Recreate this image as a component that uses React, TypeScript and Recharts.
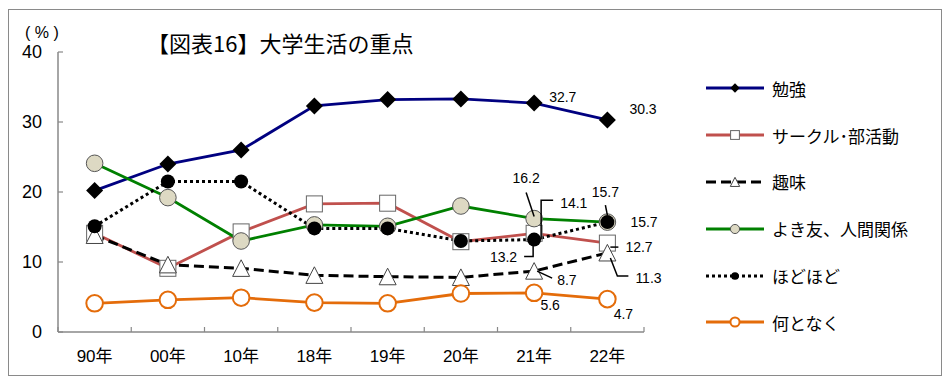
import { LineChart, Line, XAxis, YAxis, Legend, LabelList } from 'recharts';

// 大学生活の重点 (%)
const years = ['90年', '00年', '10年', '18年', '19年', '20年', '21年', '22年'];
const study = [20.2, 24.0, 26.0, 32.3, 33.2, 33.3, 32.7, 30.3];
const club = [14.1, 9.1, 14.3, 18.3, 18.4, 12.9, 14.1, 12.7];
const hobby = [13.8, 9.6, 9.1, 8.1, 7.9, 7.8, 8.7, 11.3];
const friends = [24.1, 19.2, 13.0, 15.3, 15.1, 18.0, 16.2, 15.7];
const moderate = [15.1, 21.5, 21.5, 14.8, 14.8, 13.0, 13.2, 15.7];
const aimless = [4.1, 4.6, 4.9, 4.2, 4.1, 5.5, 5.6, 4.7];
const yTicks = [0, 10, 20, 30, 40];

const data = years.map((year, i) => ({
  year,
  study: study[i],
  club: club[i],
  hobby: hobby[i],
  friends: friends[i],
  moderate: moderate[i],
  aimless: aimless[i],
}));

const W = 950;
const H = 388;
const margin = { top: 52, right: 306, bottom: 26, left: 0 };
const Y_AXIS_W = 58;
const X_AXIS_H = 30;
const step = (W - margin.left - margin.right - Y_AXIS_W) / years.length;

const numFont = '"Liberation Sans", Arial, "Noto Sans CJK JP", sans-serif';
const jpFont = '"Noto Sans CJK JP", "Noto Sans", sans-serif';

type Kind = 'diamond' | 'square' | 'triangle' | 'beige' | 'black' | 'orange';

const series: { key: string; name: string; color: string; width: number; dash?: string; kind: Kind }[] = [
  { key: 'study', name: '勉強', color: '#000080', width: 2.8, kind: 'diamond' },
  { key: 'club', name: 'サークル･部活動', color: '#c0504d', width: 2.8, kind: 'square' },
  { key: 'hobby', name: '趣味', color: '#000000', width: 3, dash: '10 5', kind: 'triangle' },
  { key: 'friends', name: 'よき友、人間関係', color: '#008000', width: 2.8, kind: 'beige' },
  { key: 'moderate', name: 'ほどほど', color: '#000000', width: 3, dash: '3 3', kind: 'black' },
  { key: 'aimless', name: '何となく', color: '#e46c0a', width: 2.8, kind: 'orange' },
];

const Marker = ({ kind, cx, cy, s = 1 }: { kind: Kind; cx: number; cy: number; s?: number }) => {
  switch (kind) {
    case 'diamond': {
      const r = 8.5 * s;
      return <polygon points={`${cx},${cy - r} ${cx + r},${cy} ${cx},${cy + r} ${cx - r},${cy}`} fill="#000" />;
    }
    case 'square': {
      const r = 8 * s;
      return <rect x={cx - r} y={cy - r} width={2 * r} height={2 * r} fill="#fff" stroke="#666" strokeWidth={1} />;
    }
    case 'triangle': {
      const r = 8.5 * s;
      return (
        <polygon
          points={`${cx},${cy - r} ${cx + r},${cy + r * 0.95} ${cx - r},${cy + r * 0.95}`}
          fill="#fff"
          stroke="#444"
          strokeWidth={1}
        />
      );
    }
    case 'beige':
      return <circle cx={cx} cy={cy} r={8.3 * s} fill="#ddd9c3" stroke="#555" strokeWidth={1} />;
    case 'black':
      return <circle cx={cx} cy={cy} r={7 * s} fill="#000" />;
    case 'orange':
      return <circle cx={cx} cy={cy} r={8.3 * s} fill="#fff" stroke="#e46c0a" strokeWidth={2} />;
  }
  return null;
};

// label offsets (relative to the point) and leader lines for the last two years
type Note = { dx: number; dy: number; anchor: 'start' | 'middle' | 'end'; path?: number[][] };
const notes: Record<string, Record<number, Note>> = {
  study: { 6: { dx: 15, dy: -6, anchor: 'start' }, 7: { dx: 22, dy: -11, anchor: 'start' } },
  club: {
    6: { dx: 26, dy: -30, anchor: 'start', path: [[19, -33], [7, -33], [7, 6]] },
    7: { dx: 18, dy: 4, anchor: 'start', path: [[3, 4], [11, 4]] },
  },
  hobby: {
    6: { dx: 23, dy: 9, anchor: 'start', path: [[3, 0], [18, 7]] },
    7: { dx: 28, dy: 25, anchor: 'start', path: [[3, 5], [10, 23], [21, 23]] },
  },
  friends: {
    6: { dx: -8, dy: -41, anchor: 'middle', path: [[-8, -26], [0, -2]] },
    7: { dx: 23, dy: 0, anchor: 'start' },
  },
  moderate: {
    6: { dx: -17, dy: 17, anchor: 'end', path: [[-10, 17], [-1, 17], [-1, 5]] },
    7: { dx: -2, dy: -30, anchor: 'middle', path: [[-2, -17], [0, -7]] },
  },
  aimless: { 6: { dx: 16, dy: 12, anchor: 'middle' }, 7: { dx: 16, dy: 15, anchor: 'middle' } },
};

const makeLabel = (key: string) => (props: any) => {
  const { x, y, value, index } = props;
  const n = notes[key]?.[index];
  if (!n || x == null || y == null) return null;
  return (
    <g key={`${key}-lab-${index}`}>
      {n.path && (
        <polyline
          points={n.path.map(([a, b]) => `${x + a},${y + b}`).join(' ')}
          fill="none"
          stroke="#000"
          strokeWidth={1.5}
        />
      )}
      <text
        x={x + n.dx}
        y={y + n.dy}
        textAnchor={n.anchor}
        dominantBaseline="central"
        fontSize={14}
        fontFamily={numFont}
        fill="#000"
      >
        {Number(value).toFixed(1)}
      </text>
    </g>
  );
};

const XTick = (props: any) => {
  const { x, y, payload, index } = props;
  const left = x - step / 2;
  return (
    <g>
      <line x1={left} y1={y} x2={left} y2={y - 5} stroke="#888" strokeWidth={1.2} />
      {index === years.length - 1 && (
        <line x1={x + step / 2} y1={y} x2={x + step / 2} y2={y - 5} stroke="#888" strokeWidth={1.2} />
      )}
      <text x={x} y={y + 24} textAnchor="middle" dominantBaseline="central" fontSize={17} fontFamily={numFont} fill="#000">
        {payload.value}
      </text>
    </g>
  );
};

const LegendBox = () => (
  <div style={{ fontFamily: jpFont, fontSize: 17, color: '#000' }}>
    {series.map((s) => (
      <div key={s.key} style={{ display: 'flex', alignItems: 'center', height: 46.8 }}>
        <svg width={58} height={20} style={{ display: 'block' }}>
          <line x1={0} y1={10} x2={58} y2={10} stroke={s.color} strokeWidth={s.width} strokeDasharray={s.dash} />
          <Marker kind={s.kind} cx={29} cy={10} s={0.55} />
        </svg>
        <span style={{ marginLeft: 8, whiteSpace: 'nowrap' }}>{s.name}</span>
      </div>
    ))}
  </div>
);

export default function App() {
  return (
    <div style={{ position: 'absolute', left: 0, top: 0, width: W, height: H, background: '#fff' }}>
      <div
        style={{
          position: 'absolute',
          left: 8,
          top: 9,
          width: 934,
          height: 367,
          border: '1.5px solid #8a8a8a',
          boxSizing: 'border-box',
        }}
      />
      <div style={{ position: 'absolute', left: 0, top: 0 }}>
        <LineChart width={W} height={H} data={data} margin={margin}>
          <XAxis
            dataKey="year"
            scale="band"
            height={X_AXIS_H}
            tickSize={0}
            tickMargin={0}
            tick={<XTick />}
            axisLine={{ stroke: '#888', strokeWidth: 1.5 }}
            interval={0}
          />
          <YAxis
            width={Y_AXIS_W}
            domain={[0, 40]}
            ticks={yTicks}
            tickSize={-5}
            tickMargin={21}
            tick={{ fontSize: 18, fill: '#000', fontFamily: numFont }}
            tickLine={{ stroke: '#888', strokeWidth: 1.2 }}
            axisLine={{ stroke: '#888', strokeWidth: 1.5 }}
            interval={0}
          />
          <Legend
            layout="vertical"
            align="center"
            verticalAlign="middle"
            content={<LegendBox />}
            wrapperStyle={{ left: 706, top: 65, width: 240 }}
          />
          {series.map((s) => (
            <Line
              key={s.key}
              dataKey={s.key}
              name={s.name}
              type="linear"
              stroke={s.color}
              strokeWidth={s.width}
              strokeDasharray={s.dash}
              isAnimationActive={false}
              dot={(p: any) => <Marker key={`${s.key}-${p.index}`} kind={s.kind} cx={p.cx} cy={p.cy} />}
              activeDot={false}
            >
              <LabelList dataKey={s.key} content={makeLabel(s.key)} />
            </Line>
          ))}
        </LineChart>
      </div>
      <div
        style={{
          position: 'absolute',
          left: 147,
          top: 30,
          fontFamily: jpFont,
          fontSize: 22,
          lineHeight: '24px',
          whiteSpace: 'nowrap',
          color: '#000',
        }}
      >
        【図表16】大学生活の重点
      </div>
      <div
        style={{
          position: 'absolute',
          left: 25,
          top: 24,
          fontFamily: numFont,
          fontSize: 16,
          lineHeight: '18px',
          letterSpacing: 4.5,
          whiteSpace: 'nowrap',
          color: '#000',
        }}
      >
        (%)
      </div>
    </div>
  );
}
